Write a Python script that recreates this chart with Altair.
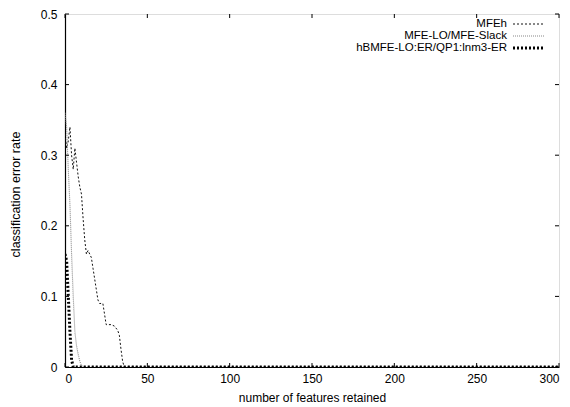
import altair as alt
import pandas as pd

series_names = ["MFEh", "MFE-LO/MFE-Slack", "hBMFE-LO:ER/QP1:lnm3-ER"]

mfeh_x = [0, 1, 2, 3, 4, 5, 6, 7, 8, 9, 10, 11, 12, 13, 14, 15, 16, 17, 18, 19, 20, 21, 23, 24, 25, 28, 30, 32, 33, 34, 35, 36, 300]
mfeh_y = [0.33, 0.31, 0.32, 0.34, 0.30, 0.28, 0.31, 0.29, 0.27, 0.255, 0.245, 0.21, 0.18, 0.16, 0.165, 0.16, 0.155, 0.14, 0.125, 0.11, 0.095, 0.09, 0.09, 0.075, 0.06, 0.06, 0.058, 0.052, 0.045, 0.025, 0.008, 0.0, 0.0]

mfelo_x = [0, 1, 2, 3, 4, 5, 6, 7, 8, 9, 10, 11, 300]
mfelo_y = [0.36, 0.34, 0.28, 0.23, 0.16, 0.10, 0.05, 0.03, 0.018, 0.008, 0.002, 0.0, 0.0]

hb_x = [0, 1, 2, 3, 4, 5, 300]
hb_y = [0.16, 0.15, 0.10, 0.05, 0.01, 0.0, 0.0]

x_ticks = [0, 50, 100, 150, 200, 250, 300]
y_ticks = [0, 0.1, 0.2, 0.3, 0.4, 0.5]

colors = ["#111111", "#888888", "#000000"]
dashes = [[2, 2], [1, 1], [2, 2]]
widths = [1, 1.1, 3]

rows = []
for name, xs, ys in zip(series_names, [mfeh_x, mfelo_x, hb_x], [mfeh_y, mfelo_y, hb_y]):
    for xv, yv in zip(xs, ys):
        rows.append({"series": name, "x": xv, "y": yv})
df = pd.DataFrame(rows)

W, H = 494, 353
FONT = "Liberation Sans"
FS = 12

xscale = alt.Scale(domain=[0, 300], nice=False, zero=False)
yscale = alt.Scale(domain=[0, 0.5], nice=False)

lines = []
for i, name in enumerate(series_names):
    lines.append(
        alt.Chart(df[df.series == name]).mark_line(
            color=colors[i], strokeDash=dashes[i], strokeWidth=widths[i], clip=True
        ).encode(
            x=alt.X("x:Q", scale=xscale, axis=alt.Axis(
                values=x_ticks, title="number of features retained", grid=False,
                tickSize=0, labelPadding=6, domain=True, domainColor="black", domainWidth=1.2,
                labelFont=FONT, labelFontSize=FS,
                titleFont=FONT, titleFontSize=FS, titleFontWeight="normal",
                titleY=30, titleBaseline="middle",
                labelColor="black", titleColor="black")),
            y=alt.Y("y:Q", scale=yscale, axis=alt.Axis(
                values=y_ticks, format="~g", title="classification error rate", grid=False,
                tickSize=0, labelPadding=8, domain=True, domainColor="black", domainWidth=1.2,
                labelFont=FONT, labelFontSize=FS,
                titleFont=FONT, titleFontSize=12.5, titleFontWeight="normal",
                titleX=-50, titleY=180, titleBaseline="middle",
                labelColor="black", titleColor="black")),
        )
    )

xt = pd.DataFrame({"t": x_ticks})
yt = pd.DataFrame({"t": y_ticks})
tick_layers = [
    alt.Chart(xt).mark_rule(color="black").encode(x=alt.X("t:Q", scale=xscale), y=alt.value(H), y2=alt.value(H - 4)),
    alt.Chart(xt).mark_rule(color="black").encode(x=alt.X("t:Q", scale=xscale), y=alt.value(0), y2=alt.value(4)),
    alt.Chart(yt).mark_rule(color="black").encode(y=alt.Y("t:Q", scale=yscale), x=alt.value(0), x2=alt.value(4)),
    alt.Chart(yt).mark_rule(color="black").encode(y=alt.Y("t:Q", scale=yscale), x=alt.value(W), x2=alt.value(W - 4)),
]

legend_layers = []
for i, name in enumerate(series_names):
    ly = 10 + 12 * i
    legend_layers.append(
        alt.Chart(pd.DataFrame({"s": [name]})).mark_text(
            align="right", baseline="middle", font=FONT, fontSize=11.5, color="black"
        ).encode(x=alt.value(442), y=alt.value(ly), text="s:N")
    )
    legend_layers.append(
        alt.Chart(pd.DataFrame({"s": [name]})).mark_rule(
            color=colors[i], strokeDash=dashes[i], strokeWidth=widths[i]
        ).encode(x=alt.value(448), x2=alt.value(480), y=alt.value(ly))
    )

chart = alt.layer(*lines, *tick_layers, *legend_layers).properties(
    width=W, height=H,
    autosize=alt.AutoSizeParams(type="none"),
    padding={"left": 57, "top": 6, "right": 3, "bottom": 40},
).configure_view(stroke="black", strokeWidth=1.2).configure(background="white")

chart.save("out.html", embed_options={"renderer": "svg", "actions": False})
